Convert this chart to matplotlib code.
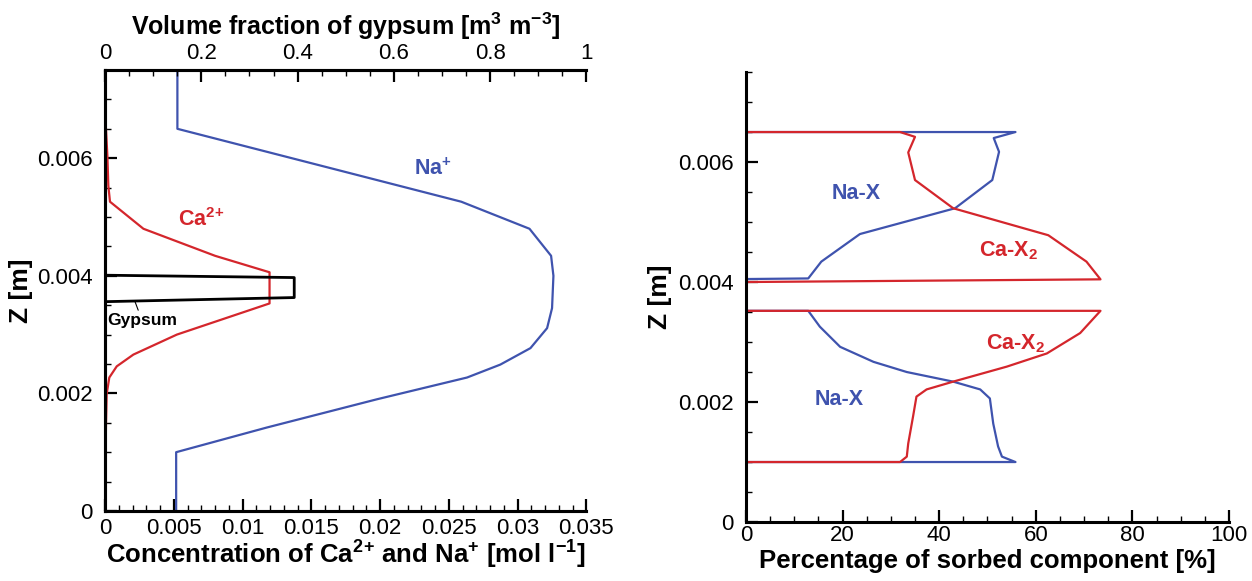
import numpy as np
import matplotlib
matplotlib.use('Agg')
import matplotlib.pyplot as plt
from matplotlib.ticker import MultipleLocator

plt.rcParams['font.family'] = ['Liberation Sans', 'DejaVu Sans']
plt.rcParams['mathtext.fontset'] = 'custom'
plt.rcParams['mathtext.rm'] = 'Liberation Sans'
plt.rcParams['mathtext.bf'] = 'Liberation Sans:bold'
plt.rcParams['mathtext.it'] = 'Liberation Sans:italic'

BLUE = '#3f53ae'
RED = '#d4262c'

# left panel: aqueous concentrations [mol/l] vs z [m]
na_conc = [0.00526, 0.00526, 0.0259, 0.03086, 0.03243, 0.0326, 0.0325, 0.03214,
           0.03093, 0.02874, 0.02632, 0.01977, 0.01177, 0.00517, 0.00517]
na_z = [0.0075, 0.0065, 0.00526, 0.0048, 0.00434, 0.0040, 0.00345, 0.00311,
        0.00277, 0.00249, 0.00227, 0.0019, 0.00142, 0.0010, 0.0]

ca_conc = [0.00007, 0.00017, 0.00024, 0.00036, 0.00279, 0.0080, 0.01196, 0.01196,
           0.00522, 0.00206, 0.00085, 0.00031, 0.00012, 0.00007, 0.00003]
ca_z = [0.00649, 0.00604, 0.00553, 0.00526, 0.0048, 0.00434, 0.00406, 0.00353,
        0.0030, 0.00266, 0.00246, 0.00227, 0.00199, 0.00148, 0.0009]

# gypsum volume fraction [-] vs z [m]
gyp_frac = [0.0, 0.393, 0.393, 0.0]
gyp_z = [0.00401, 0.00397, 0.00363, 0.00356]

# right panel: sorbed fractions [%] vs z [m]
nax_pct = [0, 0, 55.8, 51.3, 52.4, 51.0, 43.3, 23.6, 15.6, 12.9, 0, 0,
           12.9, 15.3, 19.5, 26.4, 33.3, 42.9, 48.5, 50.5, 51.2, 52.2, 53.0, 55.8, 0, 0]
nax_z = [0.0075, 0.0065, 0.0065, 0.0064, 0.00617, 0.0057, 0.00523, 0.0048, 0.00434, 0.00406,
         0.00405, 0.00352, 0.00352, 0.003256, 0.00292, 0.00267, 0.0025, 0.00234, 0.00221,
         0.00206, 0.00164, 0.00126, 0.00109, 0.0010, 0.0010, 0.0]

cax_pct = [0, 0, 31.9, 35.0, 33.6, 35.0, 42.9, 62.6, 70.5, 73.4, 0, 0,
           73.4, 69.2, 62.3, 54.0, 42.9, 37.4, 35.3, 34.6, 33.6, 33.3, 31.9, 0, 0]
cax_z = [0.0075, 0.0065, 0.0065, 0.00642, 0.00616, 0.0057, 0.00523, 0.00478, 0.00434,
         0.004045, 0.0040, 0.00352, 0.00352, 0.00315, 0.00281, 0.00259, 0.00234,
         0.00221, 0.00209, 0.00176, 0.00131, 0.00109, 0.0010, 0.0010, 0.0]

conc_ticks = [0, 0.005, 0.01, 0.015, 0.02, 0.025, 0.03, 0.035]
conc_labels = ['0', '0.005', '0.01', '0.015', '0.02', '0.025', '0.03', '0.035']
frac_ticks = [0, 0.2, 0.4, 0.6, 0.8, 1.0]
frac_labels = ['0', '0.2', '0.4', '0.6', '0.8', '1']
z_ticks = [0, 0.002, 0.004, 0.006]
z_labels = ['0', '0.002', '0.004', '0.006']
pct_ticks = [0, 20, 40, 60, 80, 100]

TICK_FS = 16
LABEL_FS = 18.5

fig = plt.figure(figsize=(12.52, 5.81), dpi=100)
ax1 = fig.add_axes([0.0839, 0.1205, 0.3845, 0.759])
ax2 = ax1.twiny()
ax3 = fig.add_axes([0.5958, 0.1015, 0.3858, 0.7745])


def style(ax, spines):
    for s in ['left', 'right', 'top', 'bottom']:
        ax.spines[s].set_visible(s in spines)
        ax.spines[s].set_linewidth(2.2)
    ax.tick_params(which='both', direction='in', width=1.6, labelsize=TICK_FS, colors='black')
    ax.tick_params(which='major', length=8.5)
    ax.tick_params(which='minor', length=4.3, width=1.0)


# ---- left panel
ax1.plot(na_conc, na_z, color=BLUE, lw=1.6)
ax1.plot(ca_conc, ca_z, color=RED, lw=1.6)
ax1.set_xlim(0, 0.035)
ax1.set_ylim(0, 0.0075)
ax1.set_xticks(conc_ticks)
ax1.set_xticklabels(conc_labels)
ax1.xaxis.set_minor_locator(MultipleLocator(0.001))
ax1.set_yticks(z_ticks)
ax1.set_yticklabels(z_labels)
ax1.yaxis.set_minor_locator(MultipleLocator(0.0005))
style(ax1, ['left', 'bottom', 'top'])
ax1.tick_params(axis='x', pad=5)
ax1.tick_params(axis='y', pad=9)
ax1.set_xlabel(r'Concentration of Ca$^{\mathbf{2}}$$^{\mathbf{+}}$ and Na$^{\mathbf{+}}$ [mol l$^{\mathbf{-1}}$]',
               fontsize=LABEL_FS, fontweight='bold', labelpad=0)
ax1.set_ylabel('Z [m]', fontsize=19, fontweight='bold')
ax1.yaxis.set_label_coords(-0.15, 0.5)

ax1.text(0.02387, 0.00582, r'Na$^{\mathbf{+}}$', color=BLUE, fontsize=15.5,
         fontweight='bold', ha='center', va='center')
ax1.text(0.00699, 0.00496, r'Ca$^{\mathbf{2}}$$^{\mathbf{+}}$', color=RED, fontsize=15.5,
         fontweight='bold', ha='center', va='center')
ax1.annotate('Gypsum', xy=(0.00218, 0.00356), xytext=(0.00269, 0.00324),
             fontsize=12.5, fontweight='bold', ha='center', va='center',
             arrowprops=dict(arrowstyle='-', color='black', lw=0.8,
                             shrinkA=7, shrinkB=0))

ax2.plot(gyp_frac, gyp_z, color='black', lw=2.0)
ax2.set_xlim(0, 1)
ax2.set_xticks(frac_ticks)
ax2.set_xticklabels(frac_labels)
ax2.xaxis.set_minor_locator(MultipleLocator(0.05))
style(ax2, ['left', 'bottom', 'top'])
ax2.tick_params(axis='x', pad=4)
ax2.set_xlabel(r'Volume fraction of gypsum [m$^{\mathbf{3}}$ m$^{\mathbf{-3}}$]',
               fontsize=18, fontweight='bold', labelpad=6)

# ---- right panel
ax3.plot(nax_pct, nax_z, color=BLUE, lw=1.6)
ax3.plot(cax_pct, cax_z, color=RED, lw=1.6)
ax3.set_xlim(0, 100)
ax3.set_ylim(0, 0.0075)
ax3.set_xticks(pct_ticks)
ax3.xaxis.set_minor_locator(MultipleLocator(5))
ax3.set_yticks(z_ticks)
ax3.set_yticklabels(z_labels)
ax3.yaxis.set_minor_locator(MultipleLocator(0.0005))
style(ax3, ['left', 'bottom'])
ax3.tick_params(axis='x', pad=2)
ax3.tick_params(axis='y', pad=9)
ax3.set_xlabel('Percentage of sorbed component [%]', fontsize=LABEL_FS, fontweight='bold', labelpad=2)
ax3.set_ylabel('Z [m]', fontsize=19, fontweight='bold')
ax3.yaxis.set_label_coords(-0.153, 0.5)

ax3.text(22.8, 0.00548, 'Na-X', color=BLUE, fontsize=15.5, fontweight='bold', ha='center', va='center')
ax3.text(19.3, 0.00205, 'Na-X', color=BLUE, fontsize=15.5, fontweight='bold', ha='center', va='center')
ax3.text(54.3, 0.00452, r'Ca-X$_{\mathbf{2}}$', color=RED, fontsize=15.5, fontweight='bold',
         ha='center', va='center')
ax3.text(55.9, 0.00298, r'Ca-X$_{\mathbf{2}}$', color=RED, fontsize=15.5, fontweight='bold',
         ha='center', va='center')

fig.savefig('out.png', dpi=100)
